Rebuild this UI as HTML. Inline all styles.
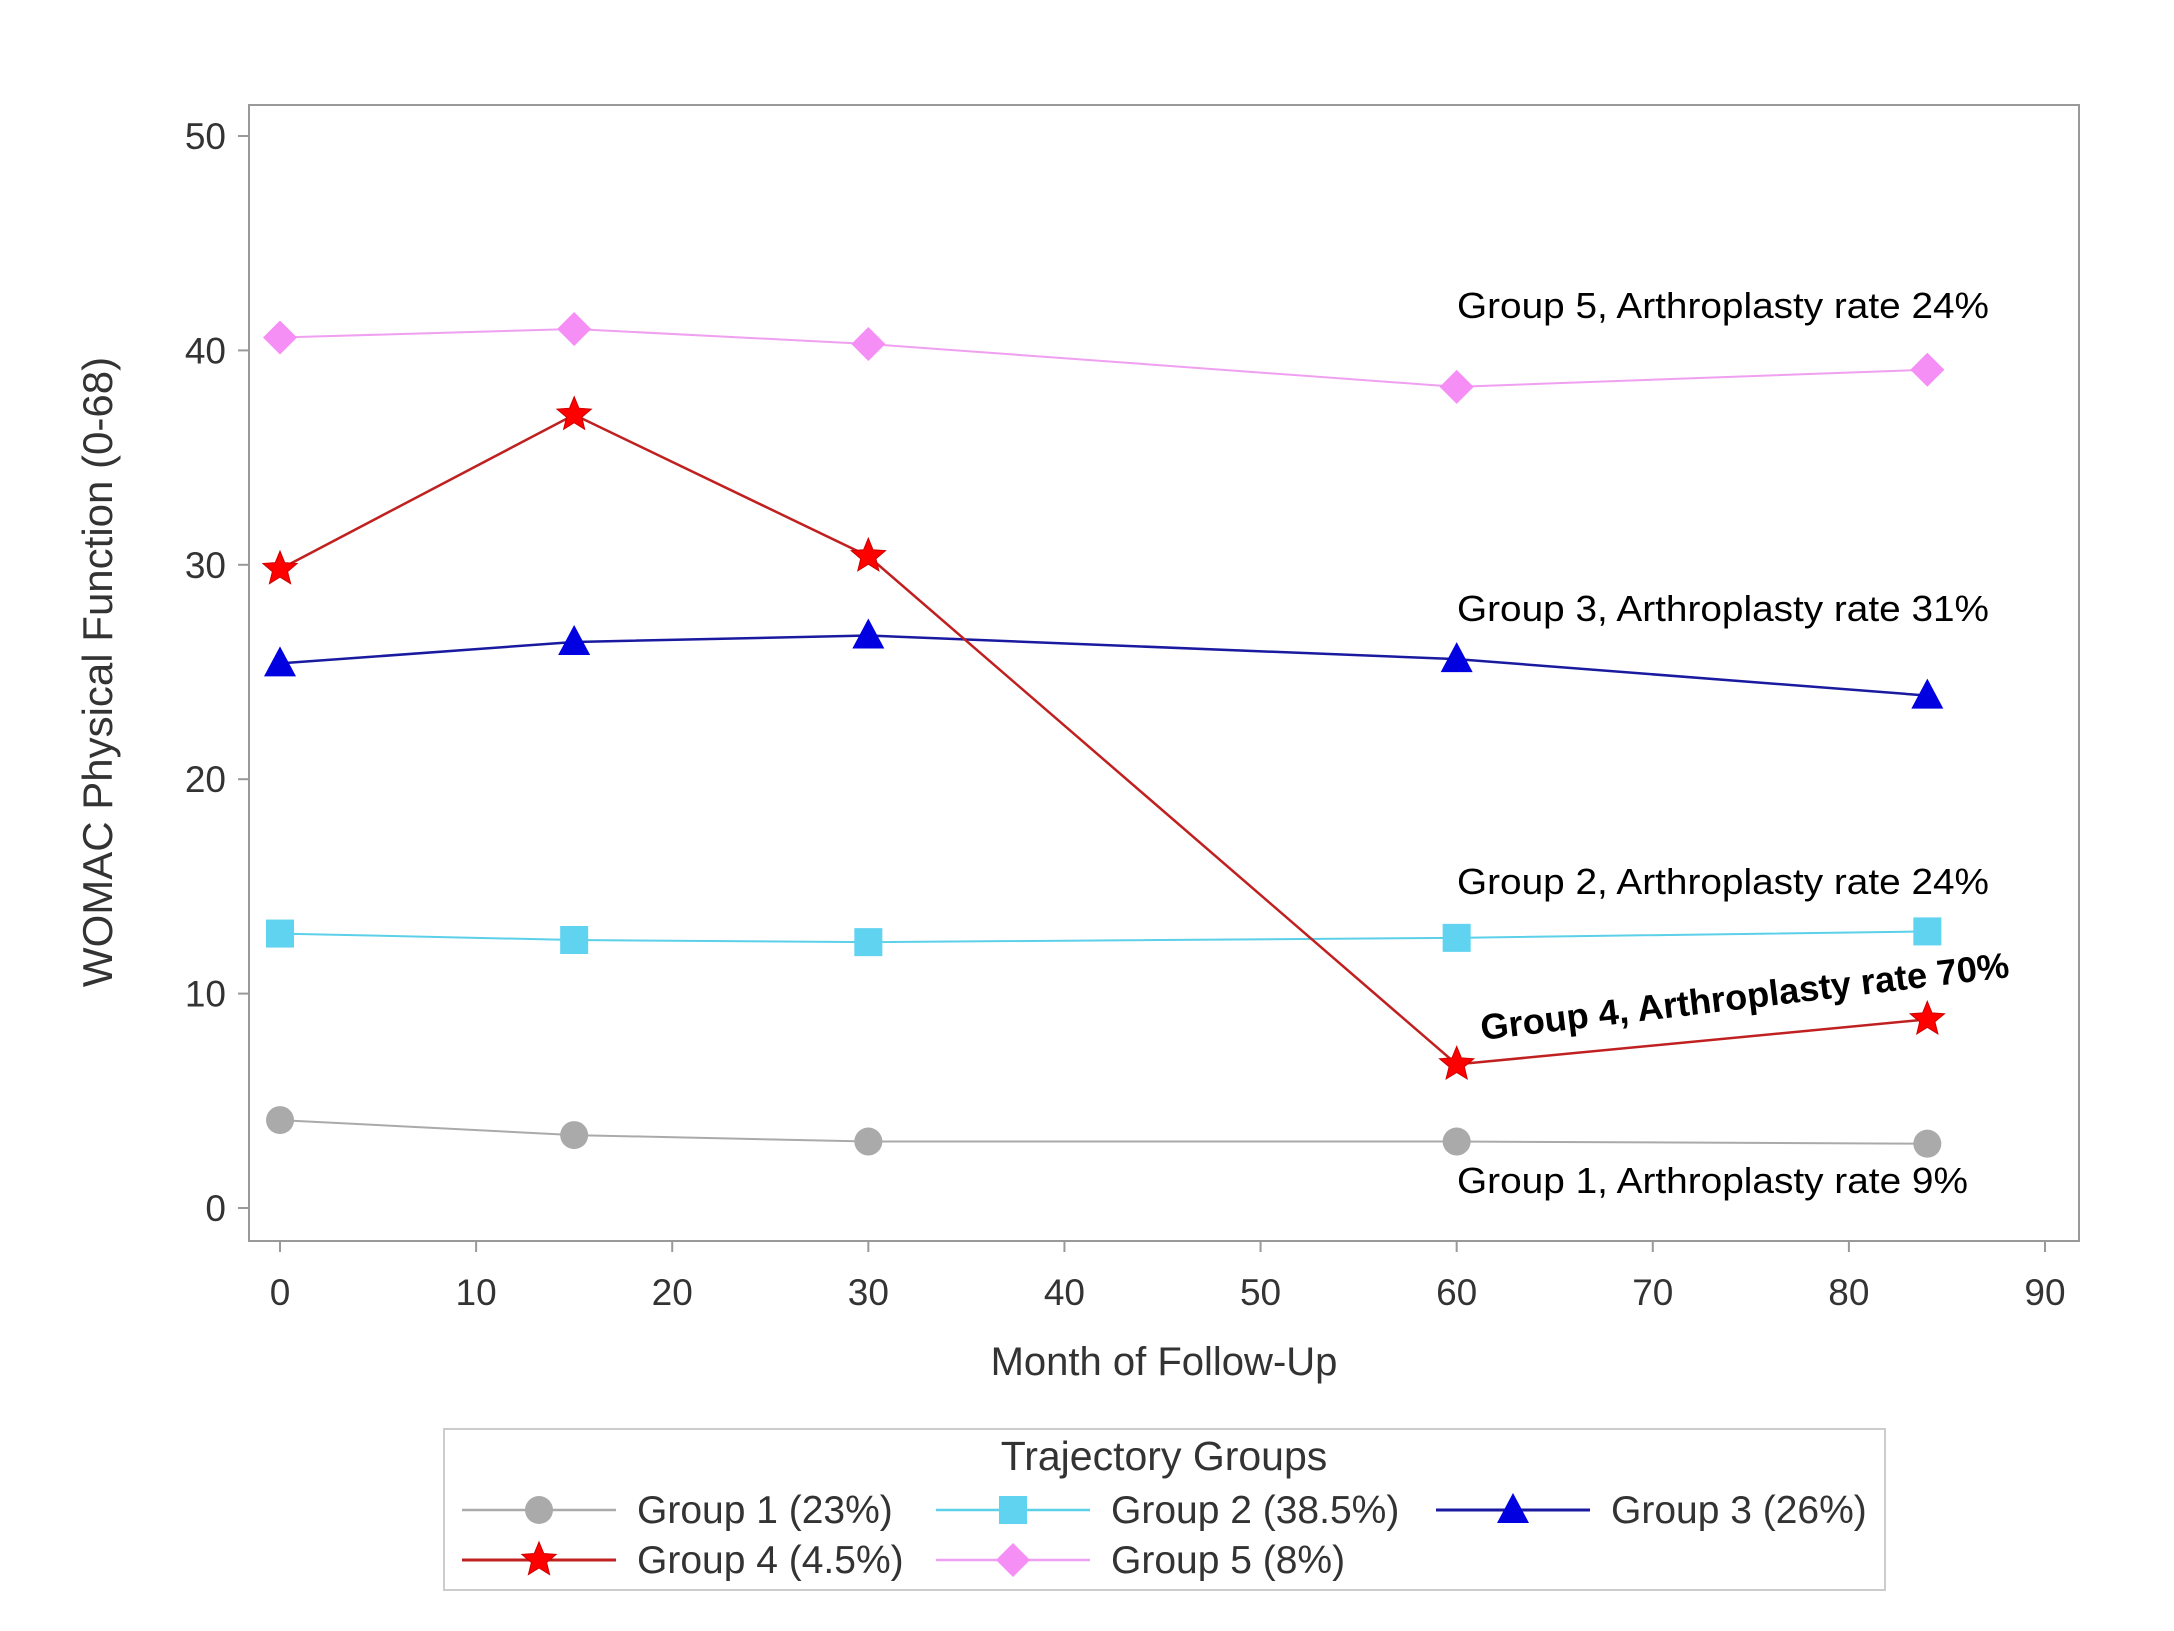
<!DOCTYPE html>
<html><head><meta charset="utf-8"><style>
html,body{margin:0;padding:0;background:#fff;}
svg{display:block;}
text{font-family:"Liberation Sans",sans-serif;}
</style></head><body>
<svg id="chart" width="2174" height="1631" viewBox="0 0 2174 1631" xmlns="http://www.w3.org/2000/svg">
<rect x="249" y="105" width="1830" height="1136" fill="#fff" stroke="#999" stroke-width="2"/>
<g id="axes"></g>
<g id="series"></g>
<text x="112" y="672" font-size="42" fill="#333" text-anchor="middle" transform="rotate(-90 112 672)">WOMAC Physical Function (0-68)</text>
<text x="1164" y="1375" font-size="40" fill="#333" text-anchor="middle">Month of Follow-Up</text>
<g font-size="36" fill="#000">
<text x="1457" y="318" textLength="532" lengthAdjust="spacingAndGlyphs">Group 5, Arthroplasty rate 24%</text>
<text x="1457" y="621" textLength="532" lengthAdjust="spacingAndGlyphs">Group 3, Arthroplasty rate 31%</text>
<text x="1457" y="894" textLength="532" lengthAdjust="spacingAndGlyphs">Group 2, Arthroplasty rate 24%</text>
<text x="1457" y="1193" textLength="511" lengthAdjust="spacingAndGlyphs">Group 1, Arthroplasty rate 9%</text>
<text x="1482" y="1040" font-weight="bold" textLength="532" lengthAdjust="spacingAndGlyphs" transform="rotate(-6.8 1482 1040)">Group 4, Arthroplasty rate 70%</text>
</g>
<rect x="444" y="1429" width="1441" height="161" fill="#fff" stroke="#ccc" stroke-width="2"/>
<text x="1164" y="1470" font-size="41" fill="#333" text-anchor="middle">Trajectory Groups</text>
<g id="legend"></g>
</svg>
<script>
const months = [0, 15, 30, 60, 84];
const group1 = [4.1, 3.4, 3.1, 3.1, 3.0];
const group2 = [12.8, 12.5, 12.4, 12.6, 12.9];
const group3 = [25.4, 26.4, 26.7, 25.6, 23.9];
const group4 = [29.8, 37.0, 30.4, 6.7, 8.8];
const group5 = [40.6, 41.0, 40.3, 38.3, 39.1];
const yTicks = [0, 10, 20, 30, 40, 50];
const xTicks = [0, 10, 20, 30, 40, 50, 60, 70, 80, 90];
const legendLabels = ["Group 1 (23%)", "Group 2 (38.5%)", "Group 3 (26%)", "Group 4 (4.5%)", "Group 5 (8%)"];

const NS = "http://www.w3.org/2000/svg";
const xs = v => 280 + v * (2045 - 280) / 90;
const ys = v => 1208 - v * (1208 - 136) / 50;
function mk(tag, attrs, parent) { const e = document.createElementNS(NS, tag); for (const k in attrs) e.setAttribute(k, attrs[k]); parent.appendChild(e); return e; }
const axes = document.getElementById('axes');
yTicks.forEach(t => {
  const l = mk('line', {x1: 238, x2: 249, y1: ys(t), y2: ys(t), stroke: '#999', 'stroke-width': 2}, axes);
  
  
  const tx = mk('text', {x: 226, y: ys(t) + 13, 'font-size': 37, fill: '#333', 'text-anchor': 'end'}, axes);
  tx.textContent = t;
  
  
});
xTicks.forEach(t => {
  const l = mk('line', {x1: xs(t), x2: xs(t), y1: 1241, y2: 1252, stroke: '#999', 'stroke-width': 2}, axes);
  
  
  const tx = mk('text', {x: xs(t), y: 1305, 'font-size': 37, fill: '#333', 'text-anchor': 'middle'}, axes);
  tx.textContent = t;
  
  
});
function marker(type, cx, cy, color, parent) {
  let e;
  if (type === 'circle') e = mk('circle', {cx, cy, r: 14, fill: color}, parent);
  else if (type === 'square') e = mk('rect', {x: cx - 14, y: cy - 14, width: 28, height: 28, fill: color}, parent);
  else if (type === 'triangle') e = mk('polygon', {points: `${cx},${cy-17} ${cx+16},${cy+13} ${cx-16},${cy+13}`, fill: color}, parent);
  else if (type === 'diamond') e = mk('polygon', {points: `${cx},${cy-17} ${cx+17},${cy} ${cx},${cy+17} ${cx-17},${cy}`, fill: color}, parent);
  else {
    let p = [];
    for (let i = 0; i < 10; i++) { const r = i % 2 ? 8 : 18; const a = -Math.PI/2 + i * Math.PI/5; p.push((cx + r*Math.cos(a)).toFixed(1) + ',' + (cy + r*Math.sin(a)).toFixed(1)); }
    e = mk('polygon', {points: p.join(' '), fill: color, stroke: '#c00', 'stroke-width': 1}, parent);
  }
  return e;
}
const series = [
  {data: group1, line: '#aaa', mark: '#aaa', type: 'circle', w: 2},
  {data: group2, line: '#5bd0e8', mark: '#5fd3f0', type: 'square', w: 2},
  {data: group3, line: '#1a1aa0', mark: '#0000e0', type: 'triangle', w: 2.5},
  {data: group4, line: '#c02020', mark: '#ff0000', type: 'star', w: 2.5},
  {data: group5, line: '#f0a0f0', mark: '#f58ef5', type: 'diamond', w: 2}
];
const sg = document.getElementById('series');
series.forEach((s, i) => {
  const g = mk('g', {}, sg);
  
  
  const pl = mk('polyline', {points: months.map((m, j) => xs(m) + ',' + ys(s.data[j])).join(' '), fill: 'none', stroke: s.line, 'stroke-width': s.w}, g);
  
  
  months.forEach((m, j) => {
    const e = marker(s.type, xs(m), ys(s.data[j]), s.mark, g);
    
    
  });
});
const lg = document.getElementById('legend');
const slots = [[462, 1510], [936, 1510], [1436, 1510], [462, 1560], [936, 1560]];
slots.forEach((p, i) => {
  const s = series[i];
  const g = mk('g', {}, lg);
  
  
  mk('line', {x1: p[0], x2: p[0] + 154, y1: p[1], y2: p[1], stroke: s.line, 'stroke-width': s.w + 0.5}, g);
  marker(s.type, p[0] + 77, p[1], s.mark, g);
  const t = mk('text', {x: p[0] + 175, y: p[1] + 13, 'font-size': 39, fill: '#333'}, g);
  t.textContent = legendLabels[i];
});
</script>
</body></html>
